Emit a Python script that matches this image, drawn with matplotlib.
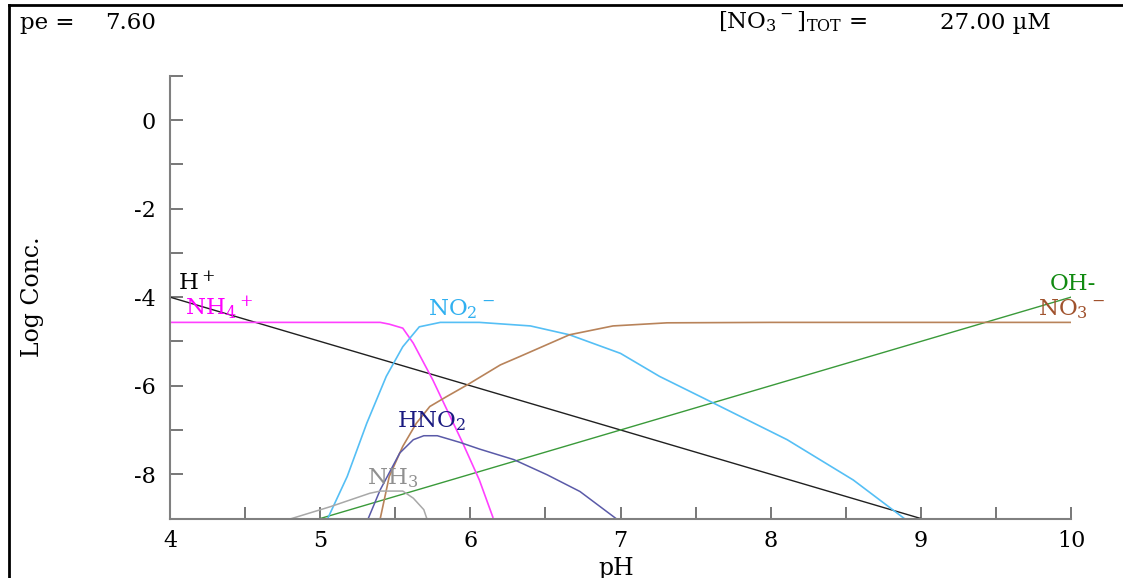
import matplotlib
matplotlib.use("Agg")
import matplotlib.pyplot as plt
from matplotlib.ticker import MultipleLocator
from matplotlib.lines import Line2D

plt.rcParams['font.family'] = ['DejaVu Serif']
plt.rcParams['mathtext.fontset'] = 'dejavuserif'

# species curves (pH, log conc)
h_ph = [4.0, 9.0]
h_log = [-4.0, -9.0]

oh_ph = [5.0, 10.0]
oh_log = [-9.0, -4.0]

nh4_ph = [4.0, 5.40, 5.46, 5.55, 5.62, 5.75, 5.95, 6.06, 6.15]
nh4_log = [-4.57, -4.57, -4.61, -4.70, -5.04, -5.87, -7.30, -8.13, -8.97]

no2_ph = [5.05, 5.18, 5.31, 5.44, 5.55, 5.66, 5.80, 6.06, 6.40, 6.66, 7.0, 7.26, 7.60, 8.11, 8.55, 8.89]
no2_log = [-9.0, -8.05, -6.85, -5.79, -5.12, -4.67, -4.57, -4.57, -4.65, -4.85, -5.27, -5.79, -6.36, -7.22, -8.13, -9.0]

no3_ph = [5.40, 5.46, 5.55, 5.64, 5.73, 5.84, 5.98, 6.20, 6.33, 6.66, 6.95, 7.31, 8.0, 10.0]
no3_log = [-9.0, -8.05, -7.37, -6.85, -6.47, -6.25, -5.98, -5.53, -5.34, -4.85, -4.65, -4.58, -4.57, -4.57]

hno2_ph = [5.32, 5.40, 5.53, 5.62, 5.69, 5.78, 5.93, 6.06, 6.29, 6.51, 6.73, 6.97]
hno2_log = [-9.0, -8.35, -7.52, -7.22, -7.13, -7.13, -7.28, -7.43, -7.67, -8.01, -8.39, -9.0]

nh3_ph = [4.81, 5.07, 5.33, 5.40, 5.55, 5.62, 5.69, 5.71]
nh3_log = [-9.0, -8.73, -8.43, -8.38, -8.38, -8.54, -8.80, -9.0]

fig = plt.figure(figsize=(11.23, 5.78), dpi=100)
ax = fig.add_axes([0.1514, 0.1029, 0.8023, 0.766])

ax.plot(h_ph, h_log, color='#202020', lw=1)
ax.plot(oh_ph, oh_log, color='#3a9a3a', lw=1)
ax.plot(nh4_ph, nh4_log, color='#ff40ff', lw=1.2)
ax.plot(no2_ph, no2_log, color='#55bff5', lw=1.2)
ax.plot(no3_ph, no3_log, color='#b8835a', lw=1.2)
ax.plot(hno2_ph, hno2_log, color='#5a5aa8', lw=1.1)
ax.plot(nh3_ph, nh3_log, color='#a8a8a8', lw=1.1)

#species labels
fs = 16.5
ax.text(4.05, -3.84, r'H$^+$', color='black', fontsize=fs)
ax.text(4.10, -4.42, r'NH$_4{}^+$', color='#ff00ff', fontsize=fs)
ax.text(5.72, -4.42, r'NO$_2{}^-$', color='#30b0f0', fontsize=fs)
ax.text(5.51, -6.95, r'HNO$_2$', color='#1a1a80', fontsize=fs)
ax.text(5.31, -8.22, r'NH$_3$', color='#909090', fontsize=fs)
ax.text(9.86, -3.84, 'OH-', color='#108a10', fontsize=fs)
ax.text(9.78, -4.42, r'NO$_3{}^-$', color='#a0522d', fontsize=fs)

ax.set_xlim(4, 10)
ax.set_ylim(-9, 1)
ax.xaxis.set_major_locator(MultipleLocator(1))
ax.xaxis.set_minor_locator(MultipleLocator(0.5))
ax.set_yticks([0, -2, -4, -6, -8])
ax.set_yticklabels(['0', '-2', '-4', '-6', '-8'])
# extra tick at top of the y axis
ax.set_yticks([1, -1, -3, -5, -7, -9], minor=True)

for s in ['top', 'right']:
	ax.spines[s].set_visible(False)
for s in ['left', 'bottom']:
	ax.spines[s].set_color('#808080')
	ax.spines[s].set_linewidth(1.5)

ax.tick_params(which='both', direction='in', length=9, width=1.2, color='#606060', labelsize=16)
ax.tick_params(axis='x', pad=8)
ax.tick_params(axis='y', pad=10)

fig.text(0.0285, 0.486, 'Log Conc.', rotation=90, ha='center', va='center', fontsize=17)
fig.text(0.549, 0.017, 'pH', ha='center', va='center', fontsize=17)

fig.text(0.0178, 0.95, 'pe =', fontsize=16.5, va='baseline')
fig.text(0.0935, 0.95, '7.60', fontsize=16.5, va='baseline')
fig.text(0.639, 0.95, r'[NO$_3{}^-$]$_{\mathrm{TOT}}$ =', fontsize=16.5, va='baseline')
fig.text(0.837, 0.95, '27.00 µM', fontsize=16.5, va='baseline')

# frame lines at top and left edge
fig.add_artist(Line2D([0.008, 1.0], [0.992, 0.992], transform=fig.transFigure, color='black', lw=2))
fig.add_artist(Line2D([0.008, 0.008], [0.0, 0.992], transform=fig.transFigure, color='black', lw=2))

fig.savefig('out.png', dpi=100)
